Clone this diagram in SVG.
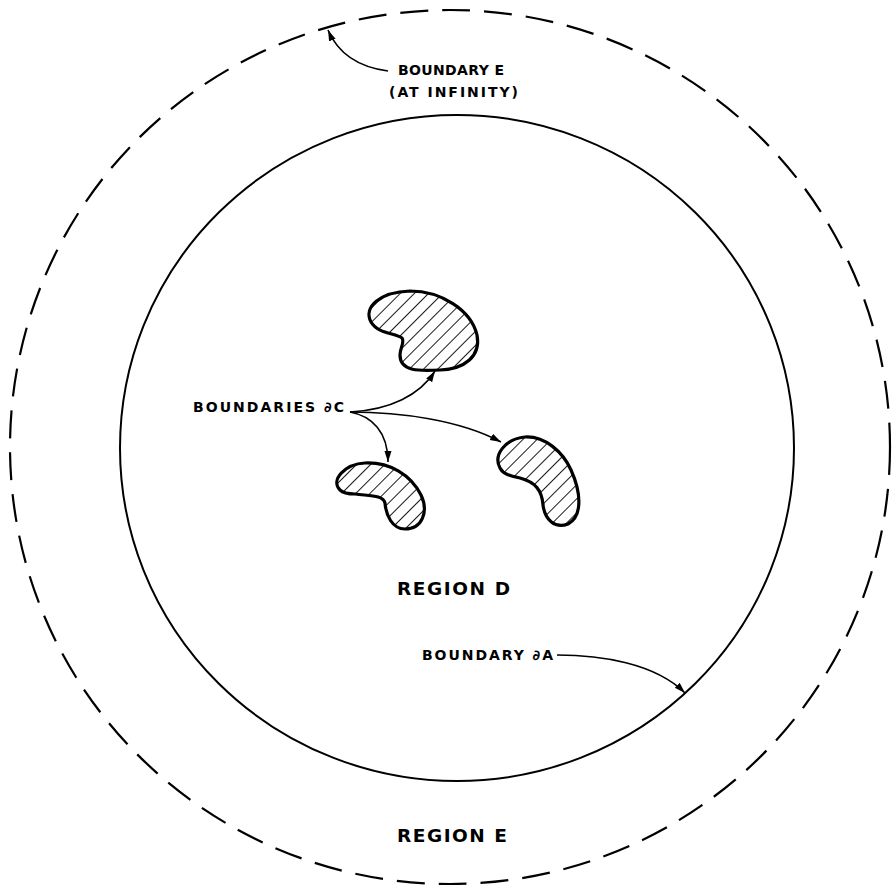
<svg xmlns="http://www.w3.org/2000/svg" width="892" height="890" viewBox="0 0 892 890">
  <style>
    .lbl { font-family: "DejaVu Sans", "Liberation Sans", Arial, sans-serif; font-weight: bold; fill: #000; }
    .small { font-size: 14px; }
    .big { font-size: 18.5px; }
    .conn { fill: none; stroke: #000; stroke-width: 1.6; marker-end: url(#arr); }
    .blob { fill: url(#hatch); stroke: #000; stroke-width: 3.2; stroke-linejoin: round; }
  </style>
  <defs>
    <marker id="arr" markerUnits="userSpaceOnUse" markerWidth="12" markerHeight="8" refX="11" refY="3.5" orient="auto">
      <path d="M0,0 L11,3.5 L0,7 Z" fill="#000"/>
    </marker>
    <pattern id="hatch" patternUnits="userSpaceOnUse" width="10" height="10" patternTransform="rotate(45)">
      <rect width="10" height="10" fill="#fff"/>
      <line x1="0" y1="-1" x2="0" y2="11" stroke="#000" stroke-width="1.8"/>
    </pattern>
  </defs>
  <rect width="892" height="890" fill="#fff"/>

  <g id="boundary-e">
    <ellipse cx="450" cy="447" rx="440" ry="437" fill="none" stroke="#000" stroke-width="2.2" stroke-dasharray="28 14"/>
  </g>
  <g id="boundary-a">
    <ellipse cx="457" cy="448" rx="337" ry="333" fill="none" stroke="#000" stroke-width="2"/>
  </g>

  <g id="blob-top">
    <path class="blob" d="M 402,338 C 395,333 378,334 371,322 C 363,307 380,292 410,291 C 441,291 471,310 477,335 C 481,356 465,369 440,370 C 420,371 400,372 400,355 C 400,348 405,342 402,338 Z"/>
  </g>
  <g id="blob-left">
    <path class="blob" d="M 340,490 C 330,480 345,464 365,463 C 390,462 411,475 421,495 C 429,512 422,529 405,529 C 392,529 386,515 385,503 C 383,495 370,496 355,494 C 348,494 343,493 340,490 Z"/>
  </g>
  <g id="blob-right">
    <path class="blob" d="M 500,468 C 493,455 505,439 525,437 C 545,436 563,452 571,470 C 581,492 583,516 568,524 C 555,529 545,520 543,505 C 542,490 535,482 520,478 C 510,476 503,474 500,468 Z"/>
  </g>

  <g id="label-boundary-e">
    <text class="lbl small" x="398" y="75" textLength="106" lengthAdjust="spacing">BOUNDARY E</text>
    <text class="lbl small" x="389" y="97" textLength="129" lengthAdjust="spacing">(AT INFINITY)</text>
  </g>
  <g id="label-boundaries-c">
    <text class="lbl small" x="193" y="412" textLength="151" lengthAdjust="spacing">BOUNDARIES ∂C</text>
  </g>
  <g id="label-region-d">
    <text class="lbl big" x="397" y="595" textLength="113" lengthAdjust="spacing">REGION D</text>
  </g>
  <g id="label-boundary-a">
    <text class="lbl small" x="422" y="660" textLength="131" lengthAdjust="spacing">BOUNDARY ∂A</text>
  </g>
  <g id="label-region-e">
    <text class="lbl big" x="397" y="842" textLength="110" lengthAdjust="spacing">REGION E</text>
  </g>

  <g id="connectors">
    <path class="conn" d="M 388,71 C 365,68 340,58 328,30"/>
    <path class="conn" d="M 350,412 C 390,410 420,395 435,371"/>
    <path class="conn" d="M 350,412 C 372,416 388,432 388,462"/>
    <path class="conn" d="M 350,412 C 400,412 460,420 501,442"/>
    <path class="conn" d="M 557,655 C 600,655 655,663 685,693"/>
  </g>
</svg>
